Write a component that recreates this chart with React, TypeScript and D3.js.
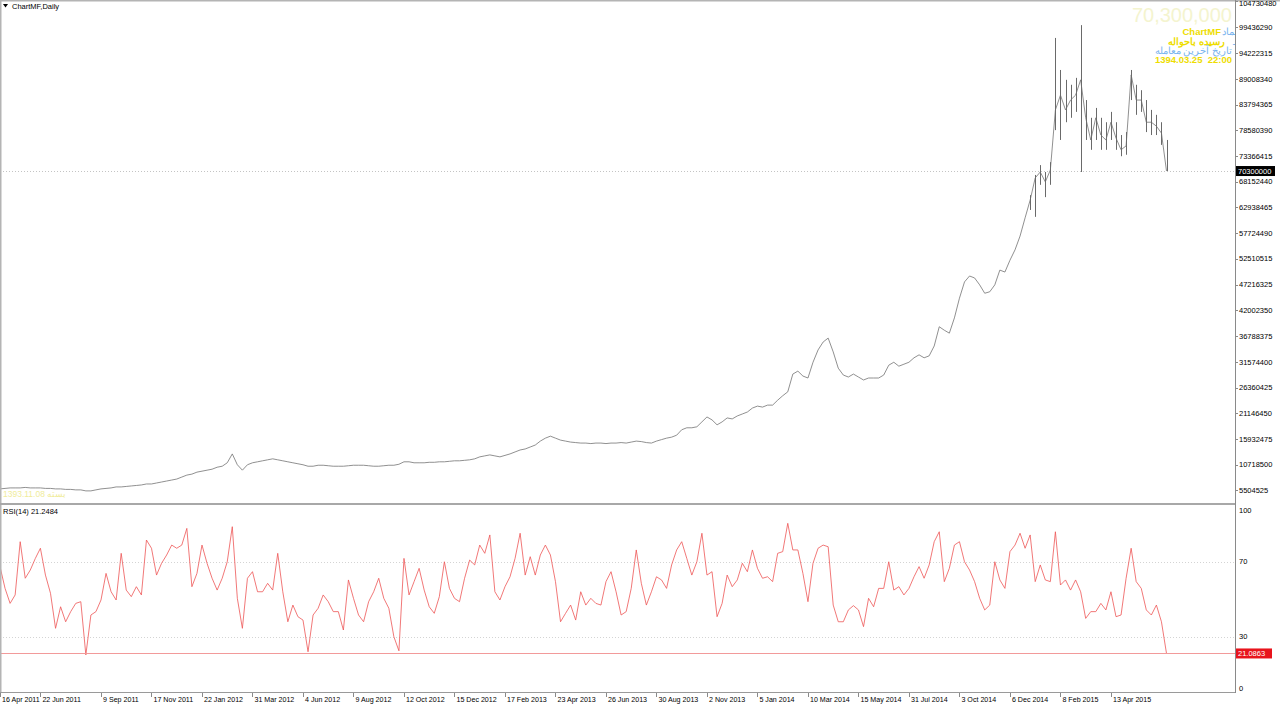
import * as d3 from "d3";
import { useEffect, useRef } from "react";

// price (million rial), one sample per ~5 bars
const priceClose = [
  5.8, 5.9, 6.0, 6.0, 6.0, 6.1, 6.0, 6.0, 6.0, 5.9,
  5.9, 5.8, 5.8, 5.7, 5.7, 5.6, 5.6, 5.4, 5.4, 5.6,
  5.8, 5.9, 6.0, 6.2, 6.2, 6.3, 6.4, 6.5, 6.6, 6.8,
  6.8, 7.0, 7.2, 7.4, 7.6, 7.8, 8.2, 8.6, 8.8, 9.2,
  9.4, 9.6, 9.8, 10.2, 10.4, 11.1, 12.9, 10.7, 9.6, 10.7,
  11.1, 11.3, 11.5, 11.7, 11.9, 11.7, 11.5, 11.3, 11.1, 10.9,
  10.7, 10.4, 10.4, 10.6, 10.6, 10.5, 10.4, 10.4, 10.4, 10.5,
  10.6, 10.6, 10.6, 10.5, 10.4, 10.4, 10.5, 10.6, 10.6, 10.8,
  11.3, 11.3, 11.1, 11.1, 11.1, 11.2, 11.2, 11.3, 11.3, 11.4,
  11.5, 11.5, 11.6, 11.7, 11.9, 12.3, 12.5, 12.7, 12.5, 12.3,
  12.6, 12.9, 13.3, 13.7, 13.9, 14.3, 14.7, 15.5, 16.1, 16.5,
  16.1, 15.7, 15.5, 15.3, 15.2, 15.1, 15.1, 15.0, 15.1, 15.1,
  15.0, 15.1, 15.1, 15.2, 15.1, 15.3, 15.5, 15.4, 15.2, 15.1,
  15.5, 15.8, 16.1, 16.3, 16.7, 17.8, 18.2, 18.2, 18.4, 19.4,
  20.4, 19.8, 18.8, 19.4, 20.2, 20.0, 20.6, 21.0, 21.4, 22.2,
  22.6, 22.4, 22.8, 22.8, 23.8, 24.7, 25.5, 29.1, 29.7, 28.7,
  28.3, 31.5, 34.0, 35.6, 36.4, 33.6, 30.3, 28.9, 28.5, 29.1,
  28.5, 27.9, 28.3, 28.3, 28.3, 28.9, 30.9, 31.5, 30.7, 31.1,
  31.5, 32.4, 33.0, 32.4, 32.8, 34.8, 38.7, 38.0, 37.4, 40.5,
  44.5, 47.8, 49.0, 48.6, 47.2, 45.5, 45.8, 47.2, 50.2, 49.8,
  52.2, 54.3, 57.1, 60.8, 64.4, 68.9, 70.1, 68.1, 70.5, 82.7,
  85.7, 82.7, 84.7, 85.7, 88.8, 81.1, 76.6, 81.1, 77.6, 76.6,
  80.2, 77.0, 74.6, 75.4, 89.8, 84.7, 84.7, 80.2, 80.2, 79.4,
  78.0, 70.3,
];

// high / low of the volatile tail, starting at sample 204
const tailStart = 204;
const tailHigh = [
  65.4, 69.5, 71.5, 70.1, 72.1, 97.3, 90.8, 88.8, 87.8, 89.2,
  99.9, 84.7, 81.1, 83.1, 81.1, 80.2, 82.3, 80.2, 77.6, 78.2,
  90.8, 87.8, 86.7, 84.7, 82.7, 81.7, 80.2, 76.6,
];
const tailLow = [
  62.4, 61.0, 67.5, 65.0, 67.5, 78.6, 76.6, 80.2, 81.1, 82.3,
  70.1, 76.6, 74.6, 76.6, 74.6, 74.6, 76.6, 74.6, 73.3, 73.6,
  84.7, 81.7, 82.3, 78.2, 77.6, 77.6, 75.6, 70.3,
];

const rsiValues = [
  67.4, 55.8, 47.8, 52.3, 80.7, 61.2, 65.6, 71.8, 77.2, 62.9,
  53.2, 34.5, 46.0, 38.0, 43.4, 47.8, 48.7, 20.3, 41.6, 43.4,
  49.6, 63.8, 54.0, 49.6, 74.5, 54.9, 51.4, 56.7, 52.3, 81.6,
  77.2, 62.9, 69.2, 73.6, 78.9, 77.2, 78.9, 87.8, 56.7, 63.8,
  78.9, 69.2, 61.2, 54.9, 61.2, 70.0, 88.7, 50.5, 34.5, 61.2,
  64.7, 54.0, 54.0, 58.5, 54.9, 74.5, 54.0, 38.0, 46.9, 40.7,
  38.9, 22.0, 41.6, 45.2, 52.3, 48.7, 43.4, 43.4, 33.6, 60.3,
  50.5, 41.6, 38.0, 48.7, 54.0, 61.2, 50.5, 45.2, 30.0, 22.5,
  71.8, 52.3, 59.4, 66.5, 54.9, 46.0, 42.5, 51.4, 70.0, 55.8,
  50.5, 48.7, 61.2, 70.9, 68.3, 78.9, 74.5, 84.3, 54.0, 49.6,
  56.7, 62.0, 71.8, 85.2, 62.9, 72.7, 62.9, 73.6, 78.9, 73.6,
  59.4, 38.0, 42.5, 46.9, 38.9, 54.0, 46.9, 50.5, 47.8, 46.9,
  59.4, 64.7, 54.0, 41.6, 43.4, 55.8, 76.3, 58.5, 46.9, 54.0,
  62.0, 60.3, 55.8, 68.3, 76.3, 80.7, 71.8, 62.9, 70.0, 85.2,
  62.9, 64.7, 40.7, 47.8, 62.9, 56.7, 60.3, 69.2, 64.7, 76.3,
  66.5, 61.2, 62.0, 59.4, 74.5, 75.4, 90.5, 76.3, 76.3, 63.8,
  48.7, 69.2, 77.2, 78.9, 78.0, 46.9, 38.0, 38.0, 44.3, 46.6,
  44.3, 35.4, 50.5, 46.0, 55.8, 55.8, 70.0, 54.9, 56.7, 52.3,
  55.8, 62.0, 67.4, 61.2, 68.3, 80.7, 86.0, 59.4, 66.5, 78.9,
  80.7, 70.0, 65.6, 59.4, 50.5, 44.3, 46.9, 70.0, 60.3, 55.8,
  75.4, 78.9, 85.2, 77.2, 84.3, 59.4, 68.3, 60.3, 59.4, 86.0,
  57.6, 60.3, 54.9, 60.3, 54.0, 39.8, 43.4, 43.4, 47.8, 44.3,
  54.0, 40.7, 41.6, 61.2, 77.2, 59.4, 55.8, 44.3, 41.6, 46.9,
  38.0, 21.09,
];

const priceTicks = [
  104730480, 99436290, 94222315, 89008340, 83794365, 78580390, 73366415, 68152440,
  62938465, 57724490, 52510515, 47216325, 42002350, 36788375, 31574400, 26360425,
  21146450, 15932475, 10718500, 5504525,
];
const rsiTicks = [100, 70, 30, 0];
const rsiLevels = [70, 30];
const dateTickIndex = [0, 8, 20, 30, 40, 50, 60, 70, 80, 90, 100, 110, 120, 130, 140, 150, 160, 170, 180, 190, 200, 210, 220];
const dateTickLabels = [
  "16 Apr 2011", "22 Jun 2011", "9 Sep 2011", "17 Nov 2011", "22 Jan 2012", "31 Mar 2012",
  "4 Jun 2012", "9 Aug 2012", "12 Oct 2012", "15 Dec 2012", "17 Feb 2013", "23 Apr 2013",
  "26 Jun 2013", "30 Aug 2013", "2 Nov 2013", "5 Jan 2014", "10 Mar 2014", "15 May 2014",
  "31 Jul 2014", "3 Oct 2014", "6 Dec 2014", "8 Feb 2015", "13 Apr 2015",
];
const lastPrice = 70300000;
const lastRsi = 21.0863;

export default function App() {
  const ref = useRef<SVGSVGElement>(null);

  useEffect(() => {
    if (!ref.current) return;
    const svg = d3.select(ref.current);
    svg.selectAll("*").remove();

    const font = "Liberation Sans, Arial, sans-serif";
    const axisX = 1235;
    const pTop = 1, pBot = 503, rTop = 505.5, rBot = 693;

    const x = d3.scaleLinear().domain([0, priceClose.length - 1]).range([0, 1166.5]);
    const yP = d3.scaleLinear().domain([2.94, 105.0]).range([pBot, 0]);
    const yR = d3.scaleLinear().domain([0, 100]).range([rBot, rTop]);

    const defs = svg.append("defs");
    defs.append("clipPath").attr("id", "clipP").append("rect").attr("x", 0).attr("y", pTop).attr("width", axisX).attr("height", pBot - pTop);
    defs.append("clipPath").attr("id", "clipR").append("rect").attr("x", 0).attr("y", 505).attr("width", axisX).attr("height", rBot - 505);

    svg.append("rect").attr("width", 1280).attr("height", 706).attr("fill", "#fff");

    // price panel
    const gp = svg.append("g").attr("clip-path", "url(#clipP)");

    gp.append("line")
      .attr("x1", 0).attr("x2", axisX)
      .attr("y1", Math.round(yP(lastPrice / 1e6)) + 0.5).attr("y2", Math.round(yP(lastPrice / 1e6)) + 0.5)
      .attr("stroke", "#c4c4c4").attr("stroke-dasharray", "1,2");

    // info block, top right
    const big = gp.append("g").attr("font-family", font).attr("text-anchor", "end");
    big.append("text").attr("x", 1232).attr("y", 22).attr("font-size", 20).attr("fill", "#f4f4cf").text("70,300,000");
    big.append("text").attr("x", 1238).attr("y", 35).attr("font-size", 9.5).attr("fill", "#79b4ee").text("نماد");
    big.append("text").attr("x", 1221).attr("y", 35).attr("font-size", 9.5).attr("font-weight", 700).attr("fill", "#eedd00").text("ChartMF");
    big.append("text").attr("x", 1236).attr("y", 44.5).attr("font-size", 9.5).attr("fill", "#79b4ee").text("ـ");
    big.append("text").attr("x", 1225).attr("y", 44.5).attr("font-size", 9.5).attr("font-weight", 700).attr("fill", "#eedd00").text("رسیده باحواله");
    big.append("text").attr("x", 1232).attr("y", 54).attr("font-size", 9.5).attr("fill", "#79b4ee").text("تاریخ آخرین معامله");
    big.append("text").attr("x", 1232).attr("y", 63).attr("font-size", 9.5).attr("font-weight", 700).attr("fill", "#eedd00")
      .style("white-space", "pre").text("1394.03.25  22:00");

    gp.append("text").attr("x", 3).attr("y", 497).attr("font-family", font).attr("font-size", 8.5).attr("fill", "#f0ec9a").text("1393.11.08");
    gp.append("text").attr("x", 47).attr("y", 497).attr("font-family", font).attr("font-size", 8.5).attr("fill", "#f0ec9a").text("بسته");

    const priceLine = d3.line<number>().x((_, i) => x(i)).y(d => yP(d));
    gp.append("path").datum(priceClose).attr("d", priceLine).attr("fill", "none").attr("stroke", "#747474").attr("stroke-width", 0.8);

    gp.selectAll(".rng").data(tailHigh).join("line")
      .attr("x1", (_, i) => Math.round(x(tailStart + i)) + 0.5).attr("x2", (_, i) => Math.round(x(tailStart + i)) + 0.5)
      .attr("y1", d => yP(d)).attr("y2", (_, i) => yP(tailLow[i]))
      .attr("stroke", "#6a6a6a").attr("stroke-width", 1);

    // rsi panel
    const gr = svg.append("g").attr("clip-path", "url(#clipR)");
    gr.selectAll(".lvl").data(rsiLevels).join("line")
      .attr("x1", 0).attr("x2", axisX).attr("y1", d => Math.round(yR(d)) + 0.5).attr("y2", d => Math.round(yR(d)) + 0.5)
      .attr("stroke", "#d4d4d4").attr("stroke-dasharray", "1,2");
    const rsiLine = d3.line<number>().x((_, i) => x(i)).y(d => yR(d));
    gr.append("path").datum(rsiValues).attr("d", rsiLine).attr("fill", "none").attr("stroke", "#ee5555").attr("stroke-width", 0.8);

    // current rsi level line
    svg.append("line").attr("x1", 1).attr("x2", axisX).attr("y1", Math.round(yR(lastRsi)) + 0.5).attr("y2", Math.round(yR(lastRsi)) + 0.5)
      .attr("stroke", "#f29a9a").attr("stroke-width", 1);

    // frame
    svg.append("line").attr("x1", 0).attr("x2", 1280).attr("y1", 0.5).attr("y2", 0.5).attr("stroke", "#b4b4b4").attr("stroke-width", 2);
    svg.append("line").attr("x1", 0.5).attr("x2", 0.5).attr("y1", 0).attr("y2", rBot).attr("stroke", "#b4b4b4").attr("stroke-width", 2);
    svg.append("line").attr("x1", 0).attr("x2", axisX).attr("y1", 504).attr("y2", 504).attr("stroke", "#a8a8a8").attr("stroke-width", 2);
    svg.append("line").attr("x1", 0).attr("x2", axisX).attr("y1", rBot - 0.5).attr("y2", rBot - 0.5).attr("stroke", "#9a9a9a");
    svg.append("line").attr("x1", axisX + 0.5).attr("x2", axisX + 0.5).attr("y1", 0).attr("y2", rBot).attr("stroke", "#8a8a8a");

    // price axis
    const pa = svg.append("g").attr("font-family", font).attr("font-size", 7.5).attr("fill", "#000");
    pa.selectAll(".pt").data(priceTicks).join("line")
      .attr("x1", axisX).attr("x2", axisX + 3).attr("y1", d => Math.round(yP(d / 1e6)) + 0.5).attr("y2", d => Math.round(yP(d / 1e6)) + 0.5)
      .attr("stroke", "#8a8a8a");
    pa.selectAll(".pl").data(priceTicks).join("text")
      .attr("x", axisX + 4).attr("y", d => Math.max(yP(d / 1e6), 3) + 2.7).text(d => String(d));

    const ly = yP(lastPrice / 1e6);
    svg.append("rect").attr("x", axisX + 1).attr("y", ly - 5).attr("width", 39).attr("height", 10).attr("fill", "#000");
    svg.append("text").attr("x", axisX + 3).attr("y", ly + 2.7).attr("font-family", font).attr("font-size", 7.5).attr("fill", "#fff").text(String(lastPrice));

    // rsi axis
    const ra = svg.append("g").attr("font-family", font).attr("font-size", 7.5).attr("fill", "#000");
    ra.selectAll(".rl").data(rsiTicks).join("text")
      .attr("x", axisX + 4)
      .attr("y", d => Math.min(Math.max(yR(d), rTop + 5), rBot - 5) + 2.7)
      .text(d => String(d));
    const ry = yR(lastRsi);
    svg.append("rect").attr("x", axisX + 1).attr("y", ry - 5).attr("width", 36).attr("height", 10).attr("fill", "#e8141c");
    svg.append("text").attr("x", axisX + 3).attr("y", ry + 2.7).attr("font-family", font).attr("font-size", 7.5).attr("fill", "#fff").text(lastRsi.toFixed(4));

    // date axis
    const da = svg.append("g").attr("font-family", font).attr("font-size", 7.1).attr("fill", "#000");
    da.selectAll(".dt").data(dateTickIndex).join("line")
      .attr("x1", d => Math.round(x(d)) + 0.5).attr("x2", d => Math.round(x(d)) + 0.5)
      .attr("y1", rBot).attr("y2", rBot + 4).attr("stroke", "#8a8a8a");
    da.selectAll(".dl").data(dateTickIndex).join("text")
      .attr("x", d => x(d) + 2).attr("y", 701.5).text((_, i) => dateTickLabels[i]);

    // titles
    svg.append("path").attr("d", "M3,4 L8,4 L5.5,7.5 Z").attr("fill", "#000");
    svg.append("text").attr("x", 12).attr("y", 9).attr("font-family", font).attr("font-size", 7.5).attr("fill", "#000").text("ChartMF,Daily");
    svg.append("text").attr("x", 3).attr("y", 514).attr("font-family", font).attr("font-size", 7.5).attr("fill", "#000").text("RSI(14) 21.2484");
  }, []);

  return <svg ref={ref} width={1280} height={706} style={{ position: "absolute", left: 0, top: 0, display: "block" }} />;
}
